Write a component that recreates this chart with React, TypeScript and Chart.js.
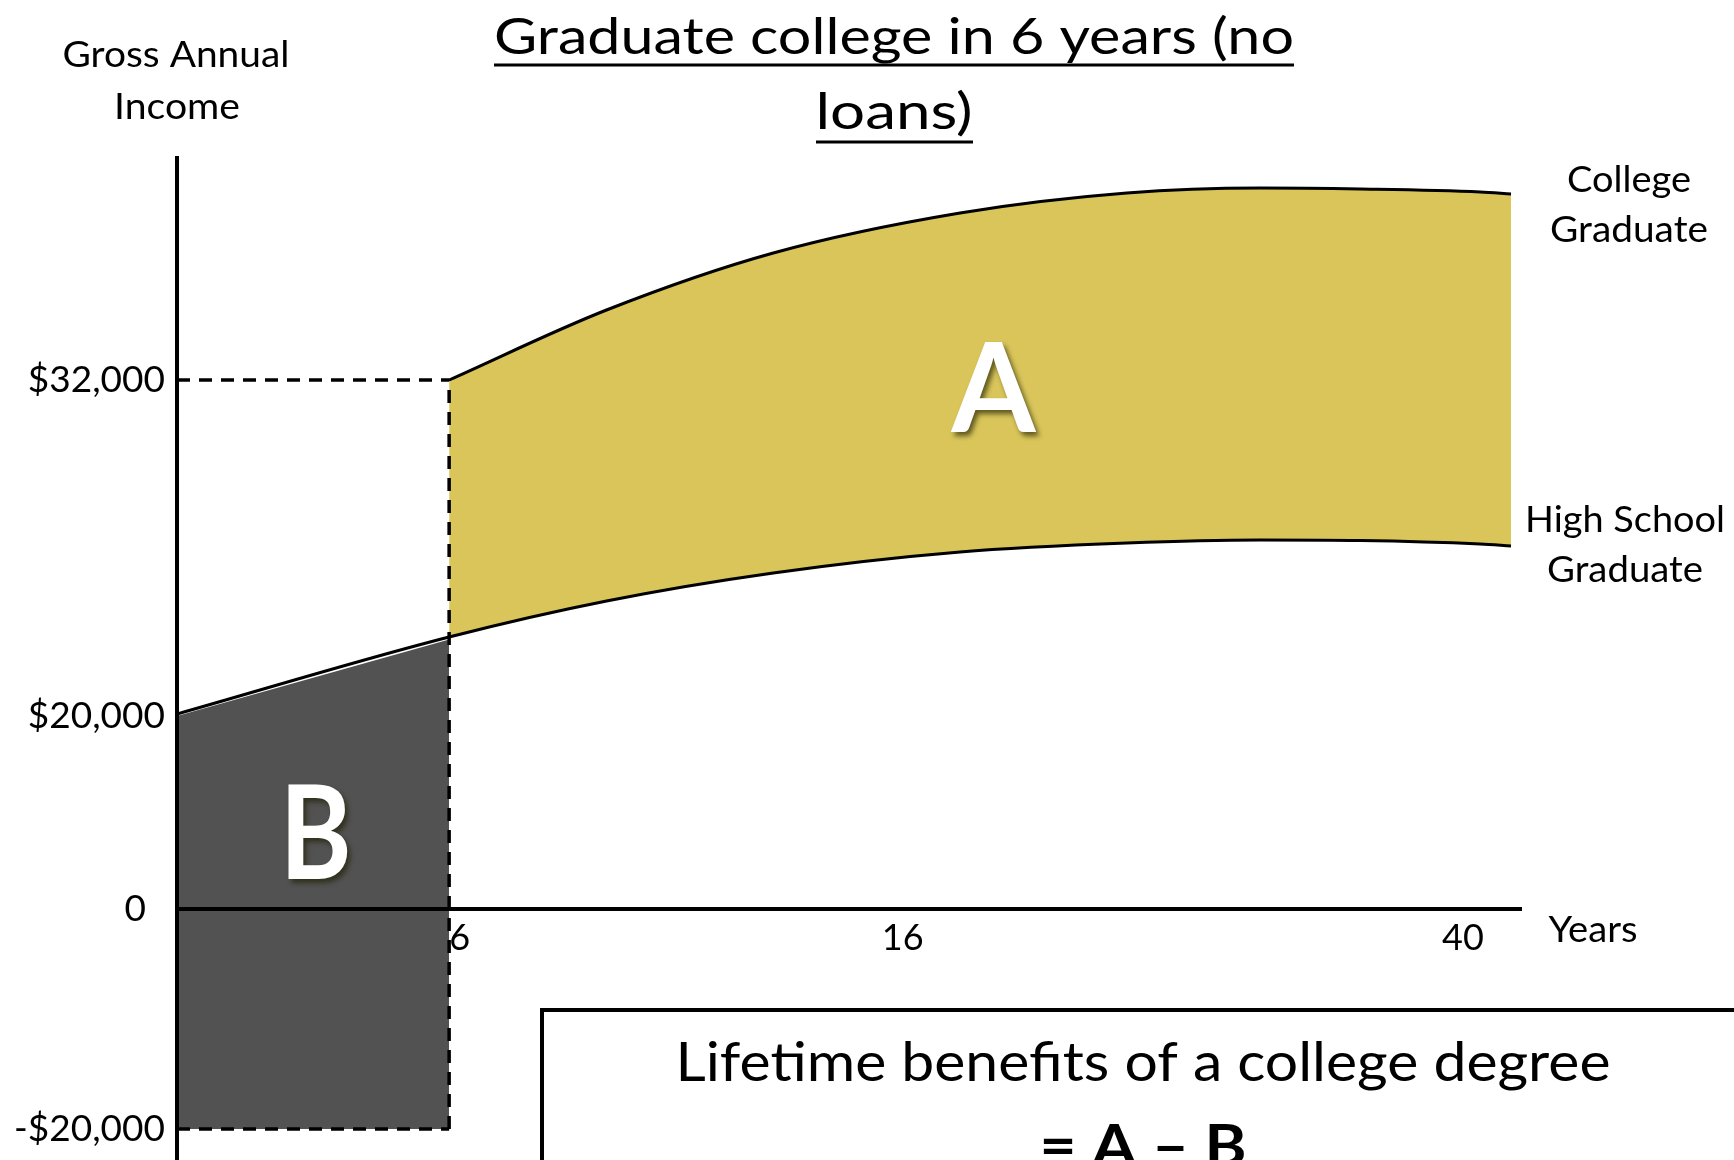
import { useEffect, useRef } from 'react';
import { Chart, registerables } from 'chart.js';

Chart.register(...registerables);

const FONT = 'Lato, "Open Sans", "DejaVu Sans", sans-serif';
const W = 1734;
const H = 1160;

// ---------- data (schematic diagram units) ----------
// horizontal: schematic position along the working life (0 = start, 100 = end of the drawn curves)
// vertical: schematic income height (0 = x axis)
const collegeX = [20.4, 32.2, 44.7, 58.7, 71.2, 81.2, 88.7, 97.7, 100];
const collegeY = [52.9, 59.9, 65.6, 69.6, 71.6, 72.1, 72.0, 71.7, 71.5];
const highSchoolX = [0, 20.4, 32.2, 44.7, 58.7, 71.2, 81.2, 88.7, 97.7, 100];
const highSchoolY = [19.5, 27.2, 30.8, 33.6, 35.7, 36.6, 36.9, 36.85, 36.5, 36.3];
const costX = [0, 20.4];
const costTopY = [19.3, 26.95];
const costBottomY = -22;
const graduationX = 20.4;
const collegeStartY = 52.9;

const yTickValues = [-22, 0, 19.3, 52.9];
const yTickLabels = ['-$20,000', '0', '$20,000', '$32,000'];
const xTickValues = [21.2, 54.4, 96.4];
const xTickLabels = ['6', '16', '40'];

const titleLines = ['Graduate college in 6 years (no', 'loans)'];
const yAxisTitle = ['Gross Annual', 'Income'];
const collegeLabel = ['College', 'Graduate'];
const highSchoolLabel = ['High School', 'Graduate'];
const xAxisTitle = 'Years';
const boxLines = ['Lifetime benefits of a college degree', '= A \u2013 B'];

const YELLOW = '#D9C55A';
const GREY = '#525252';

function drawFitted(
  ctx: CanvasRenderingContext2D,
  text: string,
  cx: number,
  baseline: number,
  size: number,
  weight: string,
  width: number,
  color: string
) {
  ctx.save();
  ctx.font = `${weight} ${size}px ${FONT}`;
  const w = ctx.measureText(text).width || 1;
  const s = width / w;
  ctx.translate(cx, baseline);
  ctx.scale(s, 1);
  ctx.textAlign = 'center';
  ctx.textBaseline = 'alphabetic';
  ctx.fillStyle = color;
  ctx.fillText(text, 0, 0);
  ctx.restore();
}

function hLine(ctx: CanvasRenderingContext2D, x1: number, x2: number, y: number, w: number) {
  ctx.save();
  ctx.strokeStyle = '#000';
  ctx.lineWidth = w;
  ctx.beginPath();
  ctx.moveTo(x1, y);
  ctx.lineTo(x2, y);
  ctx.stroke();
  ctx.restore();
}

const labelsPlugin = {
  id: 'schematicLabels',
  afterDraw(chart: any) {
    const ctx: CanvasRenderingContext2D = chart.ctx;
    const xs = chart.scales.x;
    const ys = chart.scales.y;

    // title
    drawFitted(ctx, titleLines[0], 894, 54, 51, '400', 800, '#000');
    hLine(ctx, 494, 1294, 65, 3);
    drawFitted(ctx, titleLines[1], 894, 129, 51, '400', 157, '#000');
    hLine(ctx, 816, 973, 142, 3);

    // y axis title
    drawFitted(ctx, yAxisTitle[0], 176, 67, 37, '400', 227, '#000');
    drawFitted(ctx, yAxisTitle[1], 177, 119, 37, '400', 126, '#000');

    // series labels
    drawFitted(ctx, collegeLabel[0], 1629, 192, 37, '400', 124, '#000');
    drawFitted(ctx, collegeLabel[1], 1629, 242, 37, '400', 158, '#000');
    drawFitted(ctx, highSchoolLabel[0], 1625, 532, 37, '400', 200, '#000');
    drawFitted(ctx, highSchoolLabel[1], 1625, 582, 37, '400', 156, '#000');

    // x axis title
    drawFitted(ctx, xAxisTitle, 1593, 942, 37, '400', 89, '#000');

    // A and B
    ctx.save();
    ctx.shadowColor = 'rgba(30,30,0,0.65)';
    ctx.shadowOffsetX = 3;
    ctx.shadowOffsetY = 4;
    ctx.shadowBlur = 5;
    drawFitted(ctx, 'A', xs.getPixelForValue(61.2), ys.getPixelForValue(47.7), 124, 'bold', 84, '#fff');
    drawFitted(ctx, 'B', xs.getPixelForValue(10.4), ys.getPixelForValue(3.0), 130, 'bold', 72, '#fff');
    ctx.restore();

    // formula box
    ctx.save();
    ctx.strokeStyle = '#000';
    ctx.lineWidth = 4;
    ctx.strokeRect(542, 1010, 1400, 400);
    ctx.restore();
    drawFitted(ctx, boxLines[0], 1143, 1081, 54, '400', 935, '#000');
    drawFitted(ctx, boxLines[1], 1143, 1166, 58, 'bold', 207, '#000');
  },
};

export default function App() {
  const ref = useRef<HTMLCanvasElement>(null);

  useEffect(() => {
    let chart: Chart | null = null;
    let cancelled = false;

    const make = () => {
      if (cancelled || !ref.current) return;
      const dashed = {
        borderColor: '#000',
        borderWidth: 3.5,
        borderDash: [13, 9],
        pointRadius: 0,
        fill: false,
        tension: 0,
        order: 1,
      };
      chart = new Chart(ref.current, {
        type: 'line',
        data: {
          datasets: [
            {
              label: 'Cost of college',
              data: costX.map((x, i) => ({ x, y: costTopY[i] })),
              borderWidth: 0,
              borderColor: 'rgba(0,0,0,0)',
              backgroundColor: GREY,
              fill: { value: costBottomY },
              pointRadius: 0,
              tension: 0,
              order: 5,
            },
            {
              label: 'College Graduate',
              data: collegeX.map((x, i) => ({ x, y: collegeY[i] })),
              borderColor: '#000',
              borderWidth: 3,
              backgroundColor: YELLOW,
              fill: 2,
              pointRadius: 0,
              cubicInterpolationMode: 'monotone',
              order: 3,
            },
            {
              label: 'High School Graduate',
              data: highSchoolX.map((x, i) => ({ x, y: highSchoolY[i] })),
              borderColor: '#000',
              borderWidth: 3,
              fill: false,
              pointRadius: 0,
              cubicInterpolationMode: 'monotone',
              order: 2,
            },
            {
              label: 'graduation',
              data: [
                { x: graduationX, y: costBottomY },
                { x: graduationX, y: collegeStartY },
              ],
              ...dashed,
            },
            {
              label: 'college start income',
              data: [
                { x: 0, y: collegeStartY },
                { x: graduationX, y: collegeStartY },
              ],
              ...dashed,
            },
            {
              label: 'cost floor',
              data: [
                { x: 0, y: costBottomY },
                { x: graduationX, y: costBottomY },
              ],
              ...dashed,
            },
          ],
        } as any,
        options: {
          responsive: false,
          animation: false,
          devicePixelRatio: 1,
          layout: { autoPadding: false, padding: { left: 0, top: 158, right: 213, bottom: 0 } },
          plugins: {
            legend: { display: false },
            tooltip: { enabled: false },
            title: { display: false },
          },
          scales: {
            x: {
              type: 'linear',
              position: { y: 0 } as any,
              min: 0,
              max: 100.75,
              grid: { display: false, drawTicks: false },
              border: { display: true, color: '#000', width: 4, z: 1 } as any,
              afterBuildTicks: (s: any) => {
                s.ticks = xTickValues.map((v) => ({ value: v }));
              },
              afterFit: (s: any) => {
                s.height = 0;
                s.paddingLeft = 0;
                s.paddingRight = 0;
                s.paddingTop = 0;
                s.paddingBottom = 0;
              },
              ticks: {
                autoSkip: false,
                maxRotation: 0,
                padding: 8,
                color: '#000',
                font: { family: FONT, size: 36 },
                callback: (_v: any, i: number) => xTickLabels[i],
              },
            },
            y: {
              type: 'linear',
              position: 'left',
              min: -25.1,
              max: 75.1,
              grid: { display: false, drawTicks: false },
              border: { display: true, color: '#000', width: 4, z: 1 } as any,
              afterBuildTicks: (s: any) => {
                s.ticks = yTickValues.map((v) => ({ value: v }));
              },
              afterFit: (s: any) => {
                s.width = 177;
                s.paddingLeft = 0;
                s.paddingRight = 0;
                s.paddingTop = 0;
                s.paddingBottom = 0;
              },
              ticks: {
                autoSkip: false,
                padding: 12,
                color: '#000',
                font: { family: FONT, size: 37 },
                callback: (_v: any, i: number) =>
                  yTickLabels[i] === '0' ? yTickLabels[i] + '  ' : yTickLabels[i],
              },
            },
          },
        } as any,
        plugins: [labelsPlugin],
      });
    };

    const fonts: any = (document as any).fonts;
    if (fonts && fonts.load) {
      Promise.all([fonts.load(`36px Lato`), fonts.load(`bold 36px Lato`)]).then(make, make);
    } else {
      make();
    }

    return () => {
      cancelled = true;
      if (chart) chart.destroy();
    };
  }, []);

  return (
    <div style={{ position: 'absolute', left: 0, top: 0, width: W, height: H, background: '#fff', overflow: 'hidden' }}>
      <canvas ref={ref} width={W} height={H} style={{ display: 'block', width: W, height: H }} />
    </div>
  );
}
